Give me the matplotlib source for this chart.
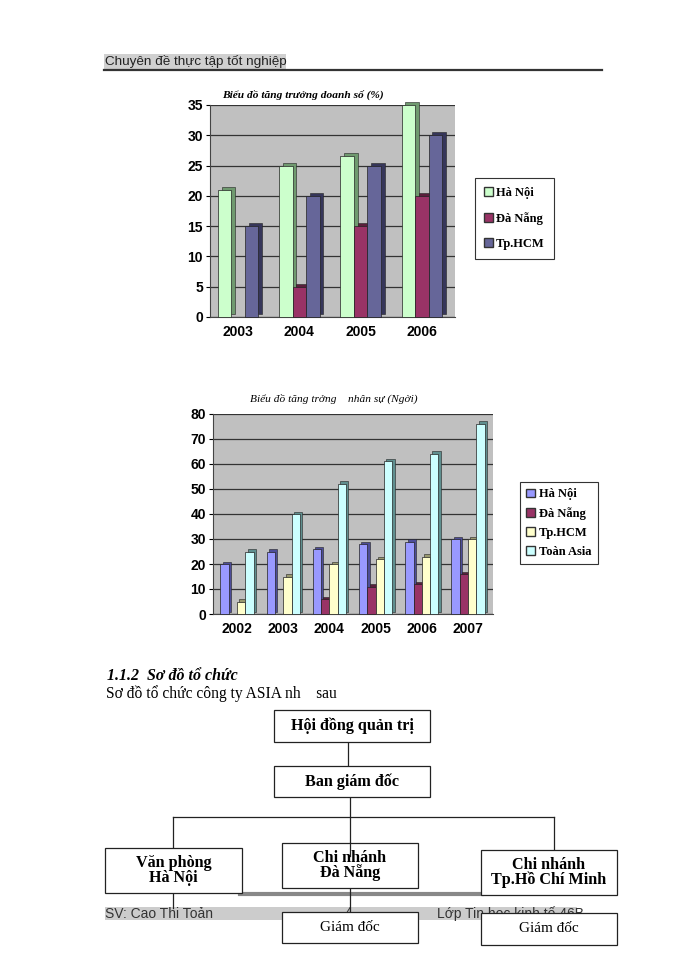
import matplotlib
matplotlib.use("Agg")
import matplotlib.pyplot as plt
from matplotlib.patches import Rectangle, Patch
import numpy as np

# ---------------- data ----------------
years1 = ["2003", "2004", "2005", "2006"]
ds_hanoi = [21, 25, 26.5, 35]
ds_danang = [0, 5, 15, 20]
ds_hcm = [15, 20, 25, 30]

years2 = ["2002", "2003", "2004", "2005", "2006", "2007"]
ns_hanoi = [20, 25, 26, 28, 29, 30]
ns_danang = [0, 0, 6, 11, 12, 16]
ns_hcm = [5, 15, 20, 22, 23, 30]
ns_asia = [25, 40, 52, 61, 64, 76]

SERIF = ["Liberation Serif", "DejaVu Serif"]
SANS = ["Liberation Sans", "DejaVu Sans"]

W, H = 700, 960
fig = plt.figure(figsize=(7, 9.6), dpi=100)
fig.patch.set_facecolor("white")

# page overlay in pixel coordinates
pg = fig.add_axes([0, 0, 1, 1])
pg.set_xlim(0, W)
pg.set_ylim(H, 0)
pg.axis("off")


def ax_at(x0, y0, x1, y1):
    return fig.add_axes([x0 / W, 1 - y1 / H, (x1 - x0) / W, (y1 - y0) / H])


def bars3d(ax, x, vals, width, face, side, dx, dy):
    x = np.asarray(x, dtype=float)
    vals = np.asarray(vals, dtype=float)
    mask = vals > 0
    sb = ax.bar(x[mask] + dx, vals[mask], width=width, bottom=dy, color=side,
                edgecolor="#222222", linewidth=0.4, zorder=3)
    fb = ax.bar(x[mask], vals[mask], width=width, color=face, edgecolor="#222222",
                linewidth=0.5, zorder=4)
    for p in list(sb) + list(fb):
        p.set_clip_on(False)
    return fb


def style_chart(ax, ymax, step, xlim):
    ax.set_facecolor("#c0c0c0")
    ax.set_xlim(*xlim)
    ax.set_ylim(0, ymax)
    ax.set_yticks(np.arange(0, ymax + 1, step))
    ax.grid(axis="y", color="#333333", linewidth=0.9, zorder=1)
    ax.set_axisbelow(True)
    for s in ["top", "right"]:
        ax.spines[s].set_visible(False)
    ax.spines["left"].set_color("#444444")
    ax.spines["bottom"].set_color("#444444")
    ax.tick_params(axis="y", length=3, pad=2)
    ax.tick_params(axis="x", length=0, pad=6)
    for lab in ax.get_yticklabels() + ax.get_xticklabels():
        lab.set_fontfamily(SANS)
        lab.set_fontweight("bold")
        lab.set_fontsize(10)


# ---------------- header ----------------
pg.add_patch(Rectangle((104, 54), 182, 15, facecolor="#d0d0d0", edgecolor="none"))
pg.text(105, 62, "Chuyên đề thực tập tốt nghiệp", fontsize=9.7, family=SANS,
        va="center", ha="left", color="#222222")
pg.plot([104, 602], [69.5, 69.5], color="#333333", linewidth=1.6)

# ---------------- chart 1 ----------------
ax1 = ax_at(210, 105, 455, 317)
x1 = np.arange(len(years1))
w1 = 0.22
bars3d(ax1, x1 - w1, ds_hanoi, w1, "#ccffcc", "#6f9a6f", 0.06, 0.5)
bars3d(ax1, x1, ds_danang, w1, "#993366", "#5a1f3c", 0.06, 0.5)
bars3d(ax1, x1 + w1, ds_hcm, w1, "#666699", "#36365a", 0.06, 0.5)
ax1.set_xticks(x1)
ax1.set_xticklabels(years1)
style_chart(ax1, 35, 5, (-0.46, 3.54))
pg.text(222, 95, "Biểu đồ tăng trưởng doanh số (%)", fontsize=8.2, family=SERIF,
        style="italic", fontweight="bold", ha="left", va="center")

leg1 = fig.legend([Patch(facecolor="#ccffcc", edgecolor="#333333"),
                   Patch(facecolor="#993366", edgecolor="#333333"),
                   Patch(facecolor="#666699", edgecolor="#333333")],
                  ["Hà Nội", "Đà Nẵng", "Tp.HCM"],
                  loc="upper left", bbox_to_anchor=(475 / W, 1 - 178 / H),
                  prop={"family": SERIF, "weight": "bold", "size": 9},
                  handlelength=0.7, handleheight=0.7, handletextpad=0.3,
                  labelspacing=1.05, borderpad=0.7, fancybox=False,
                  edgecolor="#333333", framealpha=1, borderaxespad=0)
leg1.get_frame().set_linewidth(0.8)

# ---------------- chart 2 ----------------
ax2 = ax_at(213, 414, 493, 614)
x2 = np.arange(len(years2))
w2 = 0.18
bars3d(ax2, x2 - 1.5 * w2, ns_hanoi, w2, "#9999ff", "#4d4d99", 0.05, 1.0)
bars3d(ax2, x2 - 0.5 * w2, ns_danang, w2, "#993366", "#5a1f3c", 0.05, 1.0)
bars3d(ax2, x2 + 0.5 * w2, ns_hcm, w2, "#ffffcc", "#9a9a6f", 0.05, 1.0)
bars3d(ax2, x2 + 1.5 * w2, ns_asia, w2, "#ccffff", "#5f8f8f", 0.05, 1.0)
ax2.set_xticks(x2)
ax2.set_xticklabels(years2)
style_chart(ax2, 80, 10, (-0.52, 5.54))
pg.text(334, 400, "Biểu đồ tăng trởng    nhân sự (Ngời)", fontsize=8.2, family=SERIF,
        style="italic", ha="center", va="center")

leg2 = fig.legend([Patch(facecolor="#9999ff", edgecolor="#333333"),
                   Patch(facecolor="#993366", edgecolor="#333333"),
                   Patch(facecolor="#ffffcc", edgecolor="#333333"),
                   Patch(facecolor="#ccffff", edgecolor="#333333")],
                  ["Hà Nội", "Đà Nẵng", "Tp.HCM", "Toàn Asia"],
                  loc="upper left", bbox_to_anchor=(520 / W, 1 - 482 / H),
                  prop={"family": SERIF, "weight": "bold", "size": 9},
                  handlelength=0.7, handleheight=0.7, handletextpad=0.3,
                  labelspacing=0.55, borderpad=0.5, fancybox=False,
                  edgecolor="#333333", framealpha=1, borderaxespad=0)
leg2.get_frame().set_linewidth(0.8)

# ---------------- section text ----------------
pg.text(107, 676, "1.1.2  Sơ đồ tổ chức", fontsize=11.5, family=SERIF,
        style="italic", fontweight="bold", ha="left", va="center")
pg.text(106, 694, "Sơ đồ tổ chức công ty ASIA nh    sau", fontsize=11.2, family=SERIF,
        ha="left", va="center")

# ---------------- footer band (behind boxes) ----------------
pg.add_patch(Rectangle((105, 907), 472, 13, facecolor="#cccccc", edgecolor="none", zorder=1))
pg.text(105, 914, "SV: Cao Thi Toản", fontsize=10, family=SANS, ha="left", va="center",
        color="#333333", zorder=2)
pg.text(345, 913, "4", fontsize=10, family=SANS, ha="left", va="center", color="#333333", zorder=2)
pg.text(437, 914, "Lớp Tin học kinh tế 46B", fontsize=10, family=SANS, ha="left", va="center",
        color="#333333", zorder=2)
pg.plot([240, 482], [894, 894], color="#888888", linewidth=3, zorder=2)

# ---------------- org chart ----------------
lines = [
    ([348, 348], [742, 766]),
    ([350, 350], [797, 856]),
    ([173, 554], [817, 817]),
    ([173, 173], [817, 848]),
    ([554, 554], [817, 850]),
    ([173, 173], [893, 908]),
    ([350, 350], [888, 912]),
]
for xs, ys in lines:
    pg.plot(xs, ys, color="#222222", linewidth=0.9, zorder=3)

boxes = [
    (274, 710, 430, 742, "Hội đồng quản trị", "bold", 11.6),
    (274, 766, 430, 797, "Ban giám đốc", "bold", 11.6),
    (105, 848, 242, 893, "Văn phòng\nHà Nội", "bold", 11.6),
    (282, 843, 418, 888, "Chi nhánh\nĐà Nẵng", "bold", 11.6),
    (481, 850, 617, 895, "Chi nhánh\nTp.Hồ Chí Minh", "bold", 11.6),
    (282, 912, 418, 943, "Giám đốc", "normal", 11),
    (481, 913, 617, 945, "Giám đốc", "normal", 11),
]
for x0, y0, x1b, y1b, txt, wt, fs in boxes:
    pg.add_patch(Rectangle((x0, y0), x1b - x0, y1b - y0, facecolor="white",
                           edgecolor="#222222", linewidth=0.9, zorder=4))
    pg.text((x0 + x1b) / 2, (y0 + y1b) / 2, txt, fontsize=fs, family=SERIF,
            fontweight=wt, ha="center", va="center", linespacing=0.92, zorder=5)
# the Đà Nẵng connector runs into its box
pg.plot([350, 350], [843, 856], color="#222222", linewidth=0.9, zorder=6)

fig.savefig("out.png", dpi=100, facecolor="white")
